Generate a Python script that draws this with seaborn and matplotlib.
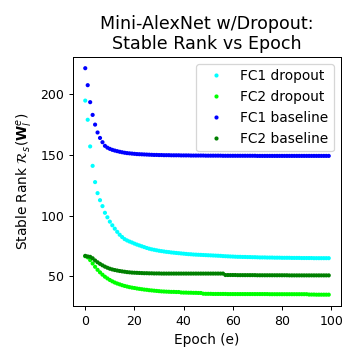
import matplotlib
matplotlib.use('Agg')
import matplotlib.pyplot as plt
import seaborn as sns
import pandas as pd
import numpy as np

epochs = list(range(100))

fc1_dropout = [
    194.8, 179.0, 157.0, 141.0, 127.6, 118.5, 112.7, 107.8, 102.3, 98.6,
    95.0, 92.0, 89.2, 86.6, 84.2, 82.3, 80.6, 79.5, 78.6, 77.8,
    76.9, 76.1, 75.4, 74.7, 74.0, 73.3, 72.7, 72.2, 71.8, 71.4,
    71.0, 70.7, 70.4, 70.1, 69.9, 69.6, 69.4, 69.2, 69.0, 68.8,
    68.6, 68.4, 68.2, 68.1, 67.9, 67.8, 67.7, 67.6, 67.5, 67.4,
    67.3, 67.2, 67.1, 67.0, 66.9, 66.8, 66.6, 66.5, 66.4, 66.3,
    66.2, 66.1, 66.0, 66.0, 65.9, 65.9, 65.8, 65.8, 65.7, 65.7,
    65.6, 65.5, 65.5, 65.5, 65.4, 65.4, 65.4, 65.3, 65.3, 65.3,
    65.2, 65.2, 65.2, 65.2, 65.1, 65.1, 65.1, 65.1, 65.0, 65.0,
    65.0, 65.0, 65.0, 64.9, 64.9, 64.9, 64.9, 64.9, 64.9, 64.9,
]

fc2_dropout = [
    66.5, 65.5, 63.3, 60.5, 57.8, 55.3, 53.2, 51.3, 49.6, 48.2,
    46.9, 45.8, 44.8, 44.0, 43.3, 42.6, 42.0, 41.5, 41.0, 40.6,
    40.3, 39.9, 39.6, 39.3, 39.0, 38.8, 38.5, 38.3, 38.1, 37.9,
    37.7, 37.5, 37.4, 37.3, 37.2, 37.1, 37.1, 37.0, 37.0, 36.6,
    36.5, 36.5, 36.4, 36.4, 36.3, 36.3, 36.2, 36.2, 35.6, 35.5,
    35.5, 35.5, 35.4, 35.4, 35.4, 35.4, 35.4, 35.4, 35.3, 35.3,
    35.3, 35.3, 35.3, 35.3, 35.3, 35.3, 35.3, 35.3, 35.3, 35.3,
    35.3, 35.3, 35.3, 35.3, 35.3, 35.2, 35.2, 35.2, 35.2, 35.2,
    35.2, 35.2, 35.2, 35.2, 35.2, 35.2, 35.2, 35.2, 35.2, 35.2,
    35.2, 34.9, 34.9, 34.9, 34.8, 34.8, 34.8, 34.8, 34.8, 34.8,
]

fc1_baseline = [
    221.5, 207.5, 193.5, 183.0, 175.0, 168.5, 164.0, 160.5, 157.5, 156.0,
    155.0, 154.2, 153.6, 153.1, 152.6, 152.2, 151.8, 151.5, 151.3, 151.1,
    150.9, 150.7, 150.6, 150.5, 150.4, 150.3, 150.2, 150.1, 150.0, 150.0,
    149.9, 149.9, 149.8, 149.8, 149.8, 149.7, 149.7, 149.7, 149.7, 149.6,
    149.6, 149.6, 149.6, 149.5, 149.5, 149.5, 149.5, 149.5, 149.5, 149.4,
    149.4, 149.4, 149.4, 149.4, 149.4, 149.4, 149.3, 149.3, 149.3, 149.3,
    149.3, 149.3, 149.3, 149.3, 149.3, 149.3, 149.3, 149.3, 149.3, 149.3,
    149.2, 149.2, 149.2, 149.2, 149.2, 149.2, 149.2, 149.2, 149.2, 149.2,
    149.2, 149.2, 149.2, 149.2, 149.2, 149.2, 149.2, 149.2, 149.2, 149.2,
    149.2, 149.2, 149.2, 149.2, 149.2, 149.2, 149.2, 149.2, 149.2, 149.2,
]

fc2_baseline = [
    66.8, 66.3, 66.0, 64.8, 63.0, 61.5, 60.2, 59.0, 57.9, 57.0,
    56.2, 55.6, 55.1, 54.7, 54.3, 54.0, 53.7, 53.4, 53.2, 53.0,
    52.9, 52.8, 52.7, 52.6, 52.5, 52.5, 52.4, 52.4, 52.3, 52.3,
    52.3, 52.2, 52.2, 52.2, 52.2, 52.2, 52.2, 52.2, 52.2, 52.2,
    52.2, 52.2, 52.2, 52.2, 52.2, 52.2, 52.2, 52.2, 52.2, 52.2,
    52.2, 52.2, 52.2, 52.2, 52.2, 52.2, 52.2, 51.0, 51.0, 51.0,
    51.0, 51.0, 50.9, 50.9, 50.9, 50.9, 50.9, 50.9, 50.9, 50.9,
    50.8, 50.8, 50.8, 50.8, 50.8, 50.8, 50.8, 50.8, 50.8, 50.8,
    50.8, 50.8, 50.8, 50.7, 50.7, 50.7, 50.7, 50.7, 50.7, 50.7,
    50.7, 50.7, 50.7, 50.7, 50.7, 50.7, 50.7, 50.7, 50.7, 50.7,
]

series_names = ['FC1 dropout', 'FC2 dropout', 'FC1 baseline', 'FC2 baseline']
series_values = [fc1_dropout, fc2_dropout, fc1_baseline, fc2_baseline]
series_colors = ['cyan', 'lime', 'blue', 'green']
y_ticks = [50, 100, 150, 200]

rows = []
for name, vals in zip(series_names, series_values):
    for e, v in zip(epochs, vals):
        rows.append({'Epoch': e, 'Rank': v, 'Series': name})
df = pd.DataFrame(rows)

fig, ax = plt.subplots(figsize=(4, 4), dpi=90)
fig.subplots_adjust(left=0.203, right=0.947, bottom=0.15, top=0.842)

sns.scatterplot(data=df, x='Epoch', y='Rank', hue='Series', hue_order=series_names,
                palette=dict(zip(series_names, series_colors)), s=11, linewidth=0, ax=ax)

sns.move_legend(ax, 'upper right', title=None, fontsize=11)
ax.set_yticks(y_ticks)
ax.set_title('Mini-AlexNet w/Dropout:\nStable Rank vs Epoch', fontsize=14)
ax.set_xlabel('Epoch (e)', fontsize=11)
ax.set_ylabel(r'Stable Rank $\mathcal{R}_s(\mathbf{W}_l^e)$', fontsize=11)
ax.tick_params(labelsize=10)

fig.savefig('out.png', dpi=90)
